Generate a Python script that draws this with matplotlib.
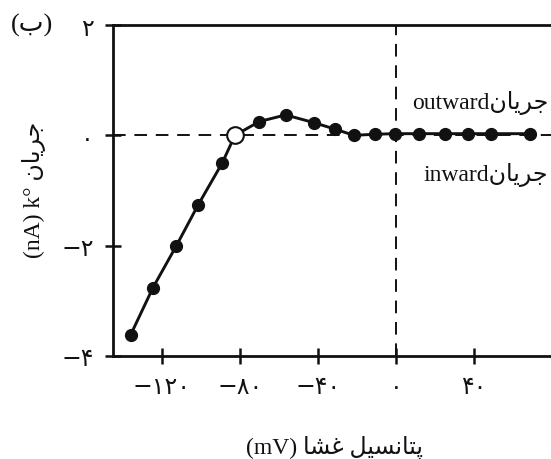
import matplotlib
matplotlib.use("Agg")
import matplotlib.pyplot as plt

FONTS = ["Liberation Serif", "DejaVu Sans"]
INK = "#111111"

# Data
voltage_mv = [-136, -124.5, -112.5, -101.5, -89, -82.5, -70, -56.5, -42,
              -31, -21.5, -10.5, -0.5, 12, 25, 37, 49, 68.5]
current_na = [-3.62, -2.76, -2.0, -1.27, -0.5, 0.0, 0.25, 0.37, 0.23,
              0.11, 0.0, 0.02, 0.03, 0.03, 0.03, 0.03, 0.03, 0.03]
reversal_index = 5  # open circle (reversal potential)

x_ticks = [-120, -80, -40, 0, 40]
x_tick_labels = ["\u2212\u06f1\u06f2\u06f0", "\u2212\u06f8\u06f0",
                 "\u2212\u06f4\u06f0", "\u06f0", "\u06f4\u06f0"]
y_ticks = [2, 0, -2, -4]
y_tick_labels = ["\u06f2", "\u06f0", "\u2212\u06f2", "\u2212\u06f4"]

# Persian strings, pre-shaped in visual (left-to-right) order
JARAYAN = "\ufee5\ufe8e\ufbfe\ufeae\ufe9f"  # جریان
GHESHA = "\ufe8e\ufeb8\ufecf"  # غشا
POTANSIL = "\ufede\ufbff\ufeb4\ufee7\ufe8e\ufe98\ufb58"  # پتانسیل
BE = "\ufe8f"  # ب

fig = plt.figure(figsize=(5.51, 4.6), dpi=100)
fig.patch.set_facecolor("white")
ax = fig.add_axes([113 / 551, 103 / 460, 1 - 113 / 551, 331 / 460])
ax.set_xlim(-145, 79.5)
ax.set_ylim(-4, 2)

# zero reference lines
ax.axhline(0, color=INK, lw=1.4, dashes=(6.5, 4.5), zorder=1)
ax.axvline(0, color=INK, lw=1.4, dashes=(6.5, 4.5), zorder=1)

ax.plot(voltage_mv, current_na, color=INK, lw=2.1, zorder=2)
filled = [i for i in range(len(voltage_mv)) if i != reversal_index]
ax.plot([voltage_mv[i] for i in filled], [current_na[i] for i in filled],
        ls="none", marker="o", ms=8.5, color=INK, zorder=3)
ax.plot([voltage_mv[reversal_index]], [current_na[reversal_index]],
        ls="none", marker="o", ms=12, mfc="white", mec=INK, mew=1.5, zorder=4)

for side in ("left", "top", "bottom"):
    ax.spines[side].set_linewidth(2)
    ax.spines[side].set_color(INK)
ax.spines["right"].set_visible(False)

ax.set_xticks(x_ticks)
ax.set_xticklabels(x_tick_labels, family=FONTS[::-1], fontsize=17)
ax.set_yticks(y_ticks)
ax.set_yticklabels(y_tick_labels, family=FONTS[::-1], fontsize=17)
ax.tick_params(axis="both", direction="inout", length=12, width=1.8, colors=INK)
ax.tick_params(axis="x", pad=7)
ax.tick_params(axis="y", pad=8)

fig.text(335 / 551, 1 - 448 / 460, "(mV) " + GHESHA + " " + POTANSIL,
         family=FONTS, fontsize=17, ha="center", va="center", color=INK)
fig.text(34 / 551, 1 - 190 / 460, "(nA) k\u00b0 " + JARAYAN, rotation=90,
         family=FONTS, fontsize=17, ha="center", va="center", color=INK)
fig.text(32 / 551, 1 - 25 / 460, "(" + BE + ")", family=FONTS, fontsize=19,
         ha="center", va="center", color=INK)

ax.text(548 / 551, 1 - 103 / 460, "outward" + JARAYAN, transform=fig.transFigure,
        family=FONTS, fontsize=17, ha="right", va="center", color=INK)
ax.text(548 / 551, 1 - 175 / 460, "inward" + JARAYAN, transform=fig.transFigure,
        family=FONTS, fontsize=17, ha="right", va="center", color=INK)

fig.savefig("out.png", dpi=100, facecolor="white")
plt.close(fig)
